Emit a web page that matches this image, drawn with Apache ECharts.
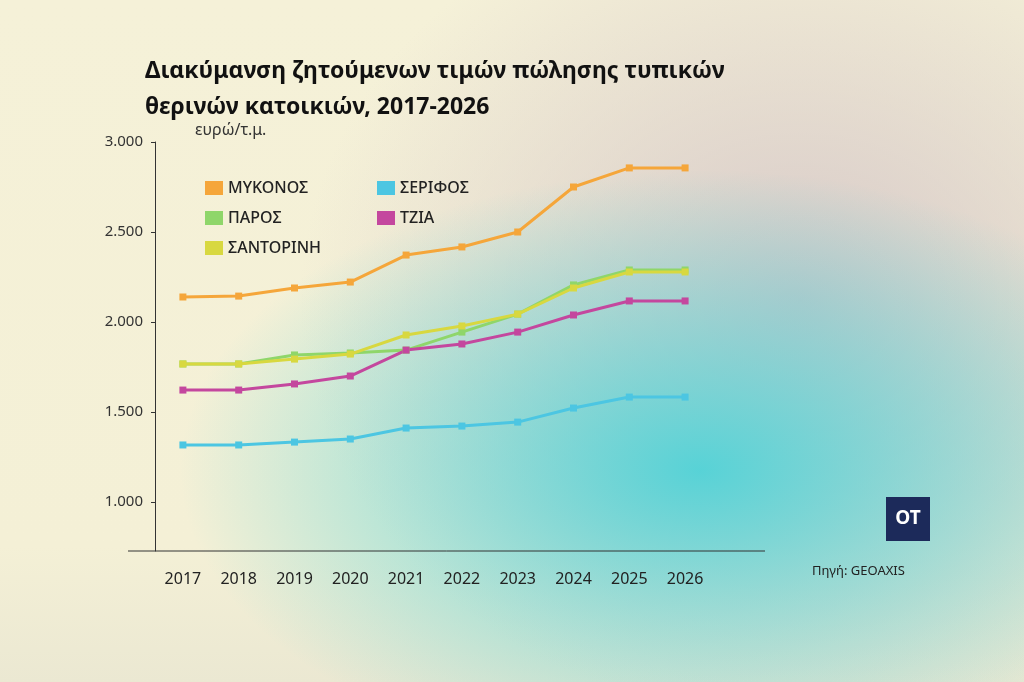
<!DOCTYPE html>
<html><head><meta charset="utf-8">
<script src="https://cdn.jsdelivr.net/npm/echarts@6/dist/echarts.min.js"></script>
<style>
html,body{margin:0;padding:0;width:1024px;height:682px;overflow:hidden;}
body{background:
 radial-gradient(ellipse 520px 300px at 700px 470px, rgba(80,210,215,0.95), rgba(80,210,215,0) 100%),
 radial-gradient(ellipse 500px 420px at 800px 300px, rgba(214,200,200,1), rgba(214,200,200,0) 100%),
 linear-gradient(180deg,#f5f1d8 0%,#f4f0d6 80%,#ebe8d2 100%);}
#c{width:1024px;height:682px;}
</style></head><body><div id="c"></div>
<script>
const years=['2017','2018','2019','2020','2021','2022','2023','2024','2025','2026'];
const mykonos=[2139,2144,2189,2222,2372,2417,2500,2750,2856,2856];
const paros=[1767,1767,1817,1828,1844,1944,2044,2206,2289,2289];
const santorini=[1767,1767,1794,1822,1928,1978,2044,2189,2278,2278];
const tzia=[1622,1622,1656,1700,1844,1878,1944,2039,2117,2117];
const serifos=[1317,1317,1333,1350,1411,1422,1444,1522,1583,1583];
const yTicks=[1000,1500,2000,2500,3000];
const names=['ΜΥΚΟΝΟΣ','ΠΑΡΟΣ','ΣΑΝΤΟΡΙΝΗ','ΣΕΡΙΦΟΣ','ΤΖΙΑ'];
const colors=['#f5a63a','#8fd66a','#d8d840','#4cc6e2','#c4479e'];
const data=[mykonos,paros,santorini,serifos,tzia];
const F='"Noto Sans", sans-serif';
const chart=echarts.init(document.getElementById('c'));
const legStyle={fontSize:16,fontWeight:500,color:'#222',fontFamily:F};
chart.setOption({
 animation:false,
 textStyle:{fontFamily:F},
 title:{text:'Διακύμανση ζητούμενων τιμών πώλησης τυπικών\nθερινών κατοικιών, 2017-2026',left:140,top:48,
  textStyle:{fontSize:23,fontWeight:'bold',color:'#111',lineHeight:36,fontFamily:F}},
 legend:[
  {data:names.slice(0,3),orient:'vertical',left:200,top:175,itemWidth:18,itemHeight:14,itemGap:14,icon:'rect',textStyle:legStyle},
  {data:names.slice(3),orient:'vertical',left:372,top:175,itemWidth:18,itemHeight:14,itemGap:14,icon:'rect',textStyle:legStyle}],
 grid:{left:155,right:311,top:142,bottom:131,containLabel:false},
 xAxis:{type:'category',data:years,boundaryGap:true,
  axisLine:{show:false},axisTick:{show:false},
  axisLabel:{fontSize:16,color:'#222',margin:20}},
 yAxis:{type:'value',min:728,max:3000,
  axisLine:{show:true,lineStyle:{color:'#333'}},
  axisTick:{show:true,length:4,customValues:yTicks},
  splitLine:{show:false},
  axisLabel:{customValues:yTicks,fontSize:15,color:'#333',margin:12,
   formatter:v=>v.toLocaleString('de-DE')}},
 graphic:[
  {type:'text',left:195,top:122,style:{text:'ευρώ/τ.μ.',fontSize:16,fill:'#333',fontFamily:F}},
  {type:'text',left:812,top:565,style:{text:'Πηγή: GEOAXIS',fontSize:13,fill:'#222',fontFamily:F}},
  {type:'line',shape:{x1:128,y1:551,x2:765,y2:551},style:{stroke:'#333',lineWidth:1}},
  {type:'rect',shape:{x:886,y:497,width:44,height:44},style:{fill:'#1c2a5a'}},
  {type:'text',x:908,y:519,style:{text:'OT',fontSize:19,fontWeight:'bold',fill:'#fff',align:'center',verticalAlign:'middle',fontFamily:F}}
 ],
 series:names.map((n,i)=>({name:n,type:'line',data:data[i],symbol:'rect',symbolSize:7,
  itemStyle:{color:colors[i]},lineStyle:{width:3,color:colors[i]},z:i===2?3:2}))
});
</script></body></html>
